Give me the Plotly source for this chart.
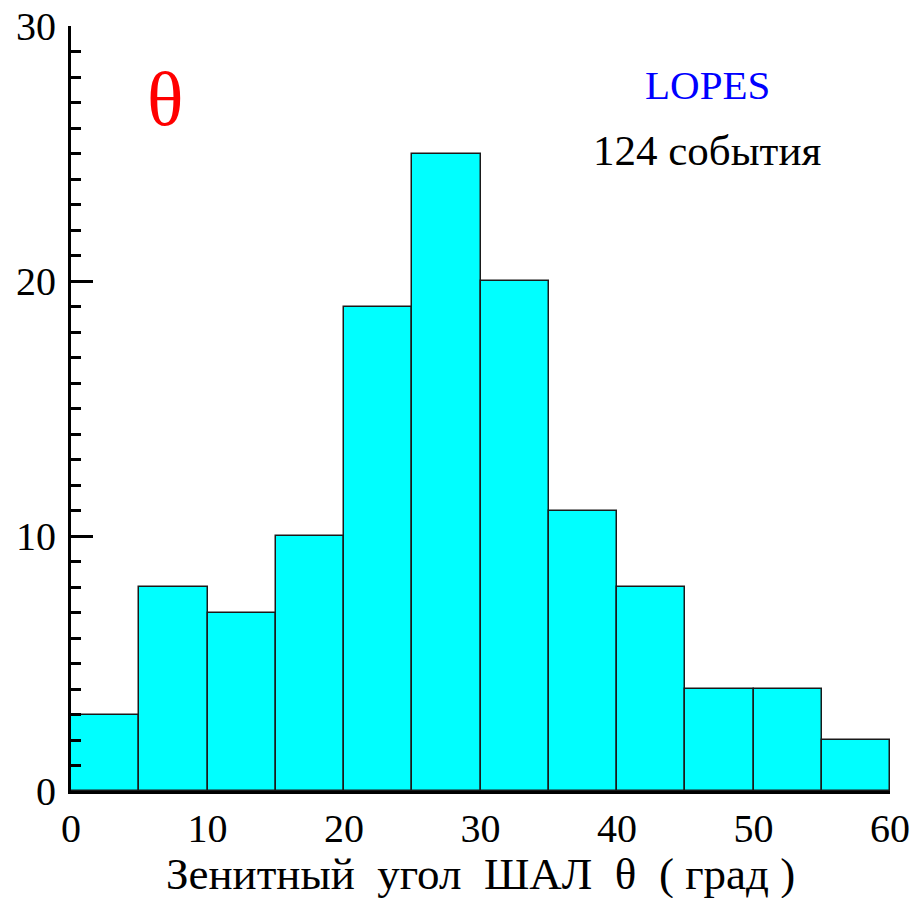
import plotly.graph_objects as go

bin_left = [0, 5, 10, 15, 20, 25, 30, 35, 40, 45, 50, 55]
bin_width = 5
counts = [3, 8, 7, 10, 19, 25, 20, 11, 8, 4, 4, 2]
x_ticks = [0, 10, 20, 30, 40, 50, 60]
y_ticks = [0, 10, 20, 30]

centers = [b + bin_width / 2 for b in bin_left]

fig = go.Figure()
fig.add_trace(go.Bar(
    x=centers, y=counts, width=[bin_width] * len(counts),
    marker=dict(color="#00FFFF", line=dict(color="#1a1a1a", width=1.5)),
    showlegend=False,
))

font_family = "Liberation Serif"

fig.update_layout(
    width=916, height=898,
    margin=dict(l=71, r=26, t=26, b=107),
    plot_bgcolor="white", paper_bgcolor="white",
    bargap=0,
    font=dict(family=font_family, color="black", size=40),
    xaxis=dict(
        range=[0, 60], tickvals=x_ticks, ticktext=[str(v) for v in x_ticks],
        showgrid=False, zeroline=False, showline=True, linecolor="black", linewidth=3,
        ticks="", tickfont=dict(size=40, family=font_family), automargin=False,
    ),
    yaxis=dict(
        range=[0, 30], tickvals=y_ticks, ticktext=[str(v) for v in y_ticks],
        showgrid=False, zeroline=False, showline=True, linecolor="black", linewidth=3,
        ticks="inside", ticklen=22, tickwidth=2.5, tickcolor="black",
        tickfont=dict(size=40, family=font_family), automargin=False,
        ticklabelstandoff=4,
        minor=dict(ticks="inside", ticklen=10, tickwidth=2.5, tickcolor="black", dtick=1, showgrid=False),
    ),
    annotations=[
        dict(x=6.9, y=27.15, xref="x", yref="y", text="θ", showarrow=False,
             font=dict(size=76, color="red", family=font_family)),
        dict(x=46.6, y=27.7, xref="x", yref="y", text="LOPES", showarrow=False,
             font=dict(size=41, color="blue", family=font_family)),
        dict(x=46.6, y=25.1, xref="x", yref="y", text="124 события", showarrow=False,
             font=dict(size=43, color="black", family=font_family)),
        dict(x=0.5, y=-0.108, xref="paper", yref="paper", yanchor="middle",
             text="Зенитный\u00a0\u00a0угол\u00a0\u00a0ШАЛ\u00a0\u00a0θ\u00a0\u00a0(\u00a0град\u00a0)",
             showarrow=False, font=dict(size=45, color="black", family=font_family)),
    ],
)

fig.write_html("out.html")
